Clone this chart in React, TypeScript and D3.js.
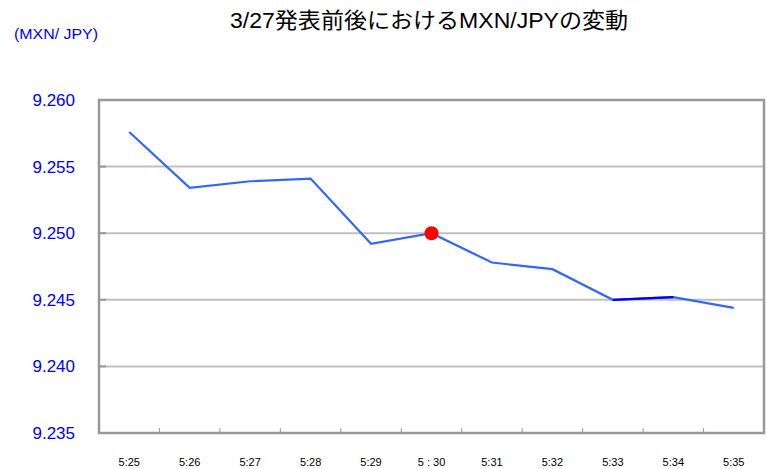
import * as d3 from 'd3';
import React, { useEffect, useRef } from 'react';

const times = ['5:25', '5:26', '5:27', '5:28', '5:29', '5 : 30', '5:31', '5:32', '5:33', '5:34', '5:35'];
const rates = [9.2576, 9.2534, 9.2539, 9.2541, 9.2492, 9.25, 9.2478, 9.2473, 9.245, 9.2452, 9.2444];
const yTicks = [9.235, 9.24, 9.245, 9.25, 9.255, 9.26];
const markIndex = 5; // 5:30 発表
const darkSegment = [8, 9]; // 5:33 - 5:34

const width = 767;
const height = 469;
const font = '"Liberation Sans", Arial, "Noto Sans CJK JP", sans-serif';

const App: React.FC = () => {
  const ref = useRef<SVGSVGElement>(null);

  useEffect(() => {
    if (!ref.current) return;
    const svg = d3.select(ref.current);
    svg.selectAll('*').remove();

    const left = 99;
    const right = 764;
    const top = 100;
    const bottom = 433;

    const x = d3.scaleBand<string>().domain(times).range([left, right]);
    const y = d3.scaleLinear().domain([9.235, 9.26]).range([bottom, top]);
    const cx = (i: number) => (x(times[i]) as number) + x.bandwidth() / 2;

    // grid
    svg
      .append('g')
      .selectAll('line')
      .data(yTicks.slice(1, -1))
      .join('line')
      .attr('x1', left)
      .attr('x2', right)
      .attr('y1', (d) => y(d))
      .attr('y2', (d) => y(d))
      .attr('stroke', '#c0c0c0')
      .attr('stroke-width', 2);

    // frame
    svg
      .append('rect')
      .attr('x', left)
      .attr('y', top)
      .attr('width', right - left)
      .attr('height', bottom - top)
      .attr('fill', 'none')
      .attr('stroke', '#999')
      .attr('stroke-width', 2.5);

    // y ticks
    svg
      .append('g')
      .selectAll('line')
      .data(yTicks)
      .join('line')
      .attr('x1', left)
      .attr('x2', left + 7)
      .attr('y1', (d) => y(d))
      .attr('y2', (d) => y(d))
      .attr('stroke', '#999')
      .attr('stroke-width', 2);

    svg
      .append('g')
      .selectAll('text')
      .data(yTicks)
      .join('text')
      .attr('x', 75)
      .attr('y', (d) => y(d))
      .attr('dy', '0.35em')
      .attr('text-anchor', 'end')
      .attr('fill', '#0000ff')
      .attr('font-family', font)
      .attr('font-size', 17)
      .text((d) => d3.format('.3f')(d));

    // x ticks at band boundaries
    svg
      .append('g')
      .selectAll('line')
      .data(times.slice(1))
      .join('line')
      .attr('x1', (d) => x(d) as number)
      .attr('x2', (d) => x(d) as number)
      .attr('y1', bottom)
      .attr('y2', bottom - 5)
      .attr('stroke', '#999')
      .attr('stroke-width', 1);

    svg
      .append('g')
      .selectAll('text')
      .data(times)
      .join('text')
      .attr('x', (d, i) => cx(i))
      .attr('y', 466)
      .attr('text-anchor', 'middle')
      .attr('fill', '#000')
      .attr('font-family', font)
      .attr('font-size', 11)
      .text((d) => d);

    // line
    const line = d3
      .line<number>()
      .x((d, i) => cx(i))
      .y((d) => y(d));

    svg
      .append('path')
      .attr('d', line(rates))
      .attr('fill', 'none')
      .attr('stroke', '#3366ff')
      .attr('stroke-width', 2.2);

    svg
      .append('line')
      .attr('x1', cx(darkSegment[0]))
      .attr('x2', cx(darkSegment[1]))
      .attr('y1', y(rates[darkSegment[0]]))
      .attr('y2', y(rates[darkSegment[1]]))
      .attr('stroke', '#0000ee')
      .attr('stroke-width', 2.2);

    svg
      .append('circle')
      .attr('cx', cx(markIndex))
      .attr('cy', y(rates[markIndex]))
      .attr('r', 7)
      .attr('fill', '#ff0000');

    // titles
    svg
      .append('text')
      .attr('x', 230)
      .attr('y', 28)
      .attr('font-family', font)
      .attr('font-size', 22)
      .attr('textLength', 398)
      .attr('lengthAdjust', 'spacingAndGlyphs')
      .attr('fill', '#000')
      .text('3/27発表前後におけるMXN/JPYの変動');

    svg
      .append('text')
      .attr('x', 14)
      .attr('y', 39)
      .attr('font-family', font)
      .attr('font-size', 14.5)
      .attr('textLength', 84)
      .attr('lengthAdjust', 'spacingAndGlyphs')
      .attr('fill', '#0000ff')
      .text('(MXN/ JPY)');
  }, []);

  return (
    <svg
      ref={ref}
      width={width}
      height={height}
      viewBox={`0 0 ${width} ${height}`}
      style={{ position: 'absolute', left: 0, top: 0, background: '#fff' }}
    ></svg>
  );
};

export default App;
